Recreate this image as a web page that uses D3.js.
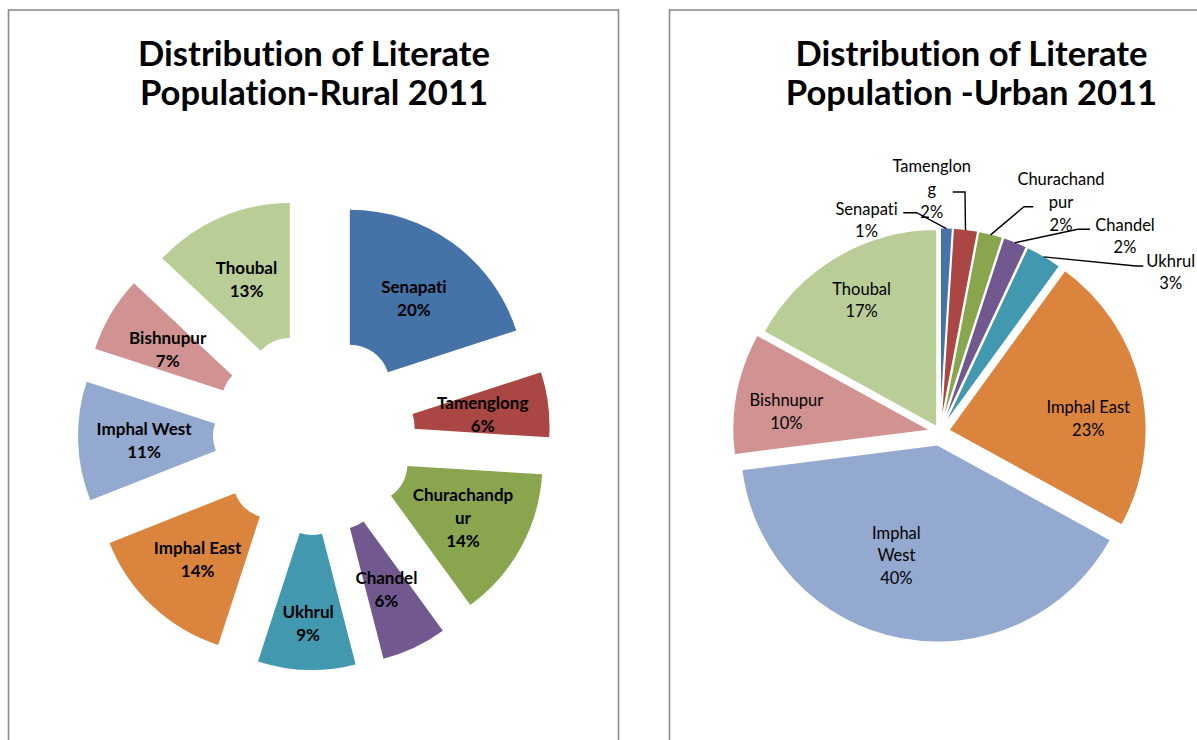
<!DOCTYPE html>
<html><head><meta charset="utf-8">
<script src="https://cdn.jsdelivr.net/npm/d3@7"></script>
<style>body{margin:0;background:#fff;} svg{display:block;} text{font-variant-ligatures:none;font-feature-settings:"liga" 0,"clig" 0;}</style>
</head><body>
<svg id="chart" width="1197" height="740"></svg>
<script>
// ---------- data ----------
const districts = ["Senapati","Tamenglong","Churachandpur","Chandel","Ukhrul","Imphal East","Imphal West","Bishnupur","Thoubal"];
const ruralShare = [20, 6, 14, 6, 9, 14, 11, 7, 13];
const urbanShare = [1, 2, 2, 2, 3, 23, 40, 10, 17];
const ruralTitle = ["Distribution of Literate", "Population-Rural 2011"];
const urbanTitle = ["Distribution of Literate", "Population -Urban 2011"];
const ruralLabelLines = [["Senapati"],["Tamenglong"],["Churachandp","ur"],["Chandel"],["Ukhrul"],["Imphal East"],["Imphal West"],["Bishnupur"],["Thoubal"]];
const urbanLabelLines = [["Senapati"],["Tamenglon","g"],["Churachand","pur"],["Chandel"],["Ukhrul"],["Imphal East"],["Imphal","West"],["Bishnupur"],["Thoubal"]];
const palette = ["#4572A7","#AA4643","#89A54E","#71588F","#4198AF","#DB843D","#93A9CF","#D19392","#B9CD96"];

// ---------- layout ----------
const FONT = "Lato, 'Open Sans', sans-serif";
const svg = d3.select("#chart");
const dir = a => [Math.sin(a), -Math.cos(a)];

// panels
svg.append("rect").attr("x", 8.5).attr("y", 10).attr("width", 610).attr("height", 760)
  .attr("fill", "none").attr("stroke", "#8a8a8a").attr("stroke-width", 1.6);
svg.append("rect").attr("x", 669.5).attr("y", 10).attr("width", 610).attr("height", 760)
  .attr("fill", "none").attr("stroke", "#8a8a8a").attr("stroke-width", 1.6);

function drawTitle(lines, cx) {
  const g = svg.append("g");
  const t = g.selectAll("text").data(lines).join("text")
    .attr("x", cx).attr("y", (d, i) => 66 + i * 39)
    .attr("text-anchor", "middle").attr("font-family", FONT)
    .attr("font-weight", "bold").attr("font-size", 31.5).attr("fill", "#000")
    .text(d => d);
  const w = t.nodes()[0].getComputedTextLength();
  const fs = 31.5 * 352 / w;
  t.attr("font-size", fs);
}
drawTitle(ruralTitle, 314);
drawTitle(urbanTitle, 971.5);

const pie = d3.pie().sort(null).value(d => d).startAngle(0).endAngle(2 * Math.PI);

// ---------- rural exploded donut ----------
{
  const C = [314, 434], explode = 61, rOut = 175, rIn = 40;
  const labelR = {default: 109, "Ukhrul": 127};
  const arcs = pie(ruralShare);
  const arc = d3.arc().innerRadius(rIn).outerRadius(rOut);
  const g = svg.append("g").attr("transform", `translate(${C})`);
  const mid = d => (d.startAngle + d.endAngle) / 2;
  g.selectAll("path").data(arcs).join("path")
    .attr("d", arc)
    .attr("fill", (d, i) => palette[i])
    .attr("transform", d => { const u = dir(mid(d)); return `translate(${u[0]*explode},${u[1]*explode})`; });
  const lab = g.selectAll("g.lab").data(arcs).join("g").attr("class", "lab")
    .attr("transform", (d, i) => {
      const r = explode + (labelR[districts[i]] || labelR.default);
      const u = dir(mid(d));
      return `translate(${u[0]*r},${u[1]*r})`;
    });
  lab.each(function(d, i) {
    const lines = ruralLabelLines[i].concat([d.data + "%"]);
    const n = lines.length;
    d3.select(this).selectAll("text").data(lines).join("text")
      .attr("x", 0).attr("y", (t, k) => (k - (n - 1) / 2) * 23)
      .attr("dy", "0.45em").attr("text-anchor", "middle")
      .attr("font-family", FONT).attr("font-weight", "bold").attr("font-size", 17)
      .attr("fill", "#000").text(t => t);
  });
}

// ---------- urban exploded pie ----------
{
  const C = [940, 432], rOut = 197.5;
  const explode = [7, 7, 7, 7, 7, 9, 13, 10, 6];
  const insideR = 148;
  const insideOverride = {"Imphal East": {a: 85, r: 140}, "Imphal West": {a: 200.5, r: 117.5}, "Bishnupur": {a: 277.5, r: 145}};
  // outside labels: label centre (relative to pie centre), leader start and elbow
  const outside = {
    "Senapati":      {c: [-73.5, -212.5], s: [-36.7, -219.3], e: [-23.3, -219.3]},
    "Tamenglong":    {c: [-8.3, -243.5],  s: [12.7, -240],    e: [25, -240]},
    "Churachandpur": {c: [121, -230.5],   s: [93.3, -225.3],  e: [84, -225.3]},
    "Chandel":       {c: [185, -196.5],   s: [150, -202.7],   e: [137.7, -202.7]},
    "Ukhrul":        {c: [230.7, -160.5], s: [203.3, -166],   e: [196, -166]}
  };
  const arcs = pie(urbanShare);
  const arc = d3.arc().innerRadius(0).outerRadius(rOut);
  const g = svg.append("g").attr("transform", `translate(${C})`);
  const mid = d => (d.startAngle + d.endAngle) / 2;
  g.selectAll("path").data(arcs).join("path")
    .attr("d", arc)
    .attr("fill", (d, i) => palette[i])
    .attr("stroke", "#fff").attr("stroke-width", 1.5).attr("stroke-linejoin", "round")
    .attr("transform", (d, i) => { const u = dir(mid(d)); return `translate(${u[0]*explode[i]},${u[1]*explode[i]})`; });

  arcs.forEach((d, i) => {
    const name = districts[i];
    const lines = urbanLabelLines[i].concat([d.data + "%"]);
    const n = lines.length;
    let pos;
    const o = outside[name];
    if (o) {
      pos = o.c;
      const u = dir(mid(d));
      const R = rOut + explode[i] - 1;
      const end = [u[0] * R, u[1] * R];
      g.append("polyline").attr("points", [o.s, o.e, end].map(p => p.join(",")).join(" "))
        .attr("fill", "none").attr("stroke", "#000").attr("stroke-width", 1.4);
    } else {
      const ov = insideOverride[name];
      const u0 = dir(mid(d));
      const apex = [u0[0] * explode[i], u0[1] * explode[i]];
      const a = ov ? ov.a * Math.PI / 180 : mid(d);
      const r = ov ? ov.r : insideR;
      const u = dir(a);
      pos = [apex[0] + u[0] * r, apex[1] + u[1] * r];
    }
    const tg = g.append("g").attr("transform", `translate(${pos})`);
    tg.selectAll("text").data(lines).join("text")
      .attr("x", 0).attr("y", (t, k) => (k - (n - 1) / 2) * 22.7)
      .attr("dy", "0.4em").attr("text-anchor", "middle")
      .attr("font-family", FONT).attr("font-size", 16.5)
      .attr("fill", "#000").text(t => t);
  });
}
</script>
</body></html>
